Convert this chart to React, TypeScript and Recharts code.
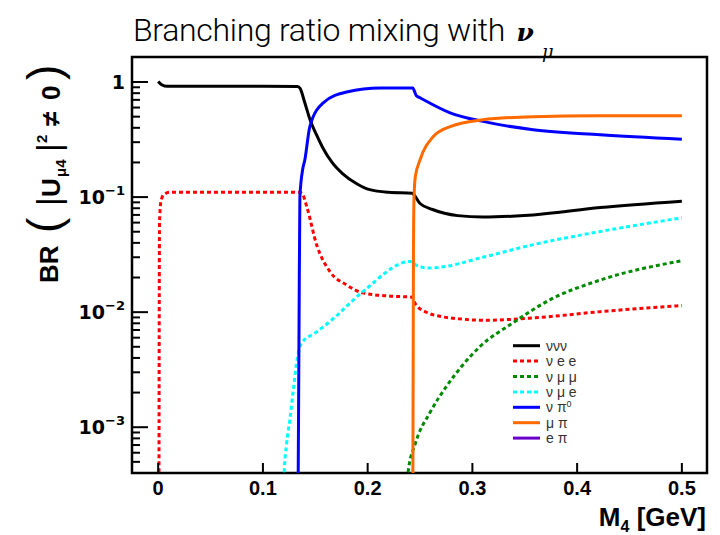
import React from 'react';
import { LineChart, Line, XAxis, YAxis, ReferenceArea } from 'recharts';

// [M4 (GeV), BR]
const nuNuNu = [
  [0.0, 1.01], [0.003, 0.95], [0.006, 0.925], [0.012, 0.92], [0.1, 0.92], [0.133, 0.915],
  [0.1355, 0.88], [0.14, 0.66], [0.145, 0.47], [0.151, 0.35], [0.157, 0.27], [0.166, 0.2],
  [0.176, 0.16], [0.19, 0.13], [0.202, 0.116], [0.22, 0.11], [0.2425, 0.108], [0.2445, 0.104],
  [0.25, 0.088], [0.262, 0.078], [0.286, 0.069], [0.31, 0.067], [0.358, 0.07], [0.422, 0.081],
  [0.5, 0.092],
];
const nuEE = [
  [0.0007, 0.0001], [0.001, 0.01], [0.0013, 0.06], [0.0025, 0.09], [0.005, 0.104], [0.011, 0.11],
  [0.05, 0.11], [0.1, 0.11], [0.135, 0.11], [0.138, 0.105], [0.1418, 0.083], [0.1515, 0.038],
  [0.164, 0.0225], [0.18, 0.0172], [0.1955, 0.0147], [0.22, 0.0138], [0.2425, 0.0135],
  [0.2455, 0.0118], [0.258, 0.0098], [0.269, 0.0092], [0.29, 0.0087], [0.31, 0.0085],
  [0.358, 0.0089], [0.422, 0.0101], [0.5, 0.0114],
];
const nuMuMu = [
  [0.238, 0.0001], [0.2385, 0.0004], [0.2457, 0.00073], [0.2595, 0.00134], [0.2758, 0.0023],
  [0.29, 0.0034], [0.307, 0.005], [0.339, 0.0081], [0.374, 0.0128], [0.422, 0.019], [0.5, 0.028],
];
const nuMuE = [
  [0.1195, 0.0001], [0.1203, 0.0004], [0.1225, 0.0007], [0.1257, 0.00116], [0.129, 0.0021],
  [0.1321, 0.0036], [0.1369, 0.0054], [0.15, 0.0066], [0.164, 0.0083], [0.1955, 0.0151],
  [0.2405, 0.0276], [0.2445, 0.0262], [0.25, 0.0247], [0.26, 0.0242], [0.27, 0.0246],
  [0.31, 0.03], [0.358, 0.0386], [0.422, 0.0502], [0.5, 0.066],
];
const nuPi0 = [
  [0.1333, 0.0001], [0.1337, 0.0004], [0.1345, 0.008], [0.1353, 0.1], [0.1379, 0.173],
  [0.14, 0.21], [0.1448, 0.41], [0.1576, 0.66], [0.18, 0.82], [0.212, 0.887], [0.243, 0.887],
  [0.2465, 0.76], [0.25, 0.73], [0.2787, 0.54], [0.31, 0.455], [0.358, 0.385], [0.422, 0.348],
  [0.5, 0.318],
];
const muPi = [
  [0.2428, 0.0001], [0.2432, 0.0004], [0.2437, 0.03], [0.2443, 0.1], [0.2455, 0.15],
  [0.25, 0.21], [0.2627, 0.336], [0.2788, 0.41], [0.31, 0.47], [0.358, 0.5], [0.42, 0.51],
  [0.5, 0.51],
];

const xTicks = [0, 0.1, 0.2, 0.3, 0.4, 0.5];
const yMajor = [0.001, 0.01, 0.1, 1];
const yDecades = [0.0001, 0.001, 0.01, 0.1];
const yMinor = yDecades.flatMap((d) => [2, 3, 4, 5, 6, 7, 8, 9].map((m) => m * d)).filter((v) => v >= 0.0004);

const series = [
  { name: 'ννν', data: nuNuNu, color: '#000000', dash: undefined },
  { name: 'ν e e', data: nuEE, color: '#ff0000', dash: '4 3' },
  { name: 'ν μ μ', data: nuMuMu, color: '#008a00', dash: '4 3' },
  { name: 'ν μ e', data: nuMuE, color: '#00ffff', dash: '4 3' },
  { name: 'ν π', sup: '0', data: nuPi0, color: '#0000ff', dash: undefined },
  { name: 'μ π', data: muPi, color: '#ff6a00', dash: undefined },
  { name: 'e π', data: [] as number[][], color: '#6a00cc', dash: undefined },
];

const toPoints = (arr: number[][]) => arr.map(([x, y]) => ({ x, y }));

const W = 720;
const H = 535;
const PLOT_LEFT = 132;
const PLOT_BOTTOM = 473;

const YTick = (props: any) => {
  const { y, payload } = props;
  const v = payload.value;
  const major = yMajor.some((m) => Math.abs(m - v) < m * 1e-6);
  const exp = Math.round(Math.log10(v));
  return (
    <g>
      <line x1={PLOT_LEFT} x2={PLOT_LEFT + (major ? 16 : 8)} y1={y} y2={y} stroke="#000" strokeWidth={2} />
      {major && (
        <text x={125} y={y + 7} textAnchor="end" fontFamily="'DejaVu Sans', sans-serif" fontWeight="bold" fontSize={19} fill="#000">
          {exp === 0 ? (
            '1'
          ) : (
            <>
              <tspan>10</tspan>
              <tspan dy={-9} fontSize={13}>{`−${-exp}`}</tspan>
            </>
          )}
        </text>
      )}
    </g>
  );
};

const XTick = (props: any) => {
  const { x, payload } = props;
  return (
    <g>
      <line x1={x} x2={x} y1={PLOT_BOTTOM} y2={PLOT_BOTTOM - 10} stroke="#000" strokeWidth={2} />
      <text x={x} y={495} textAnchor="middle" fontFamily="'Liberation Sans', Arial, sans-serif" fontWeight="bold" fontSize={20} fill="#000">
        {payload.value}
      </text>
    </g>
  );
};

export default function App() {
  return (
    <div style={{ position: 'absolute', left: 0, top: 0, width: W, height: H, background: '#fff' }}>
      <LineChart width={W} height={H} margin={{ top: 57, right: 13, bottom: 0, left: 0 }}>
        <XAxis
          type="number"
          dataKey="x"
          domain={[-0.025, 0.524]}
          allowDataOverflow
          ticks={xTicks}
          interval={0}
          height={62}
          axisLine={false}
          tickLine={false}
          tick={<XTick />}
        />
        <YAxis
          type="number"
          dataKey="y"
          scale="log"
          domain={[0.0004, 1.65]}
          allowDataOverflow
          ticks={[...yMinor, ...yMajor]}
          interval={0}
          width={132}
          axisLine={false}
          tickLine={false}
          tick={<YTick />}
        />
        {series
          .filter((s) => s.data.length > 0)
          .map((s) => (
            <Line
              key={s.name}
              data={toPoints(s.data)}
              dataKey="y"
              type="monotone"
              dot={false}
              stroke={s.color}
              strokeWidth={3}
              strokeDasharray={s.dash}
              isAnimationActive={false}
            />
          ))}
        <ReferenceArea x1={-0.025} x2={0.524} y1={0.0004} y2={1.65} fill="none" stroke="#000" strokeWidth={2.5} />
      </LineChart>
      <svg width={W} height={H} style={{ position: 'absolute', left: 0, top: 0, pointerEvents: 'none' }}>
        <text x={133} y={41} fontFamily="Roboto, sans-serif" fontWeight={300} fontSize={32} letterSpacing={-0.3} fill="#000">
          <tspan>Branching ratio mixing with </tspan>
          <tspan dx={4} fontFamily="'DejaVu Serif', serif" fontStyle="italic" fontWeight="bold" fontSize={25} letterSpacing={0}>ν</tspan>
          <tspan dx={8} dy={17} fontFamily="'DejaVu Serif', serif" fontStyle="italic" fontWeight="normal" fontSize={18} letterSpacing={0}>μ</tspan>
        </text>

        <text transform="translate(58,283) rotate(-90)" fontFamily="'Liberation Sans', Arial, sans-serif" fontWeight="bold" fontSize={26} fill="#000">
          <tspan x={0}>BR</tspan>
          <tspan x={50} dy={2} fontWeight="normal" fontSize={46}>(</tspan>
          <tspan x={77} dy={0} fontWeight="normal" fontSize={34}>|</tspan>
          <tspan x={86}>U</tspan>
          <tspan x={106} dy={6} fontSize={15}>μ4</tspan>
          <tspan x={131} dy={-6} fontWeight="normal" fontSize={34}>|</tspan>
          <tspan x={140} dy={-13} fontSize={15}>2</tspan>
          <tspan x={157} dy={13}>≠</tspan>
          <tspan x={183}>0</tspan>
          <tspan x={203} fontWeight="normal" fontSize={46}>)</tspan>
        </text>

        <text x={706} y={526} textAnchor="end" fontFamily="'Liberation Sans', Arial, sans-serif" fontWeight="bold" fontSize={26} fill="#000">
          <tspan>M</tspan>
          <tspan dy={6} fontSize={16}>4</tspan>
          <tspan dy={-6}> [GeV]</tspan>
        </text>

        {series.map((s, i) => {
          const y = 345.7 + i * 15.4;
          return (
            <g key={s.name}>
              <line x1={513} x2={540} y1={y} y2={y} stroke={s.color} strokeWidth={3} strokeDasharray={s.dash} />
              <text x={546} y={y + 5} fontFamily="'Liberation Sans', Arial, sans-serif" fontSize={14} fill="#333">
                {s.name}
                {s.sup && <tspan dy={-5} fontSize={9}>{s.sup}</tspan>}
              </text>
            </g>
          );
        })}
      </svg>
    </div>
  );
}
